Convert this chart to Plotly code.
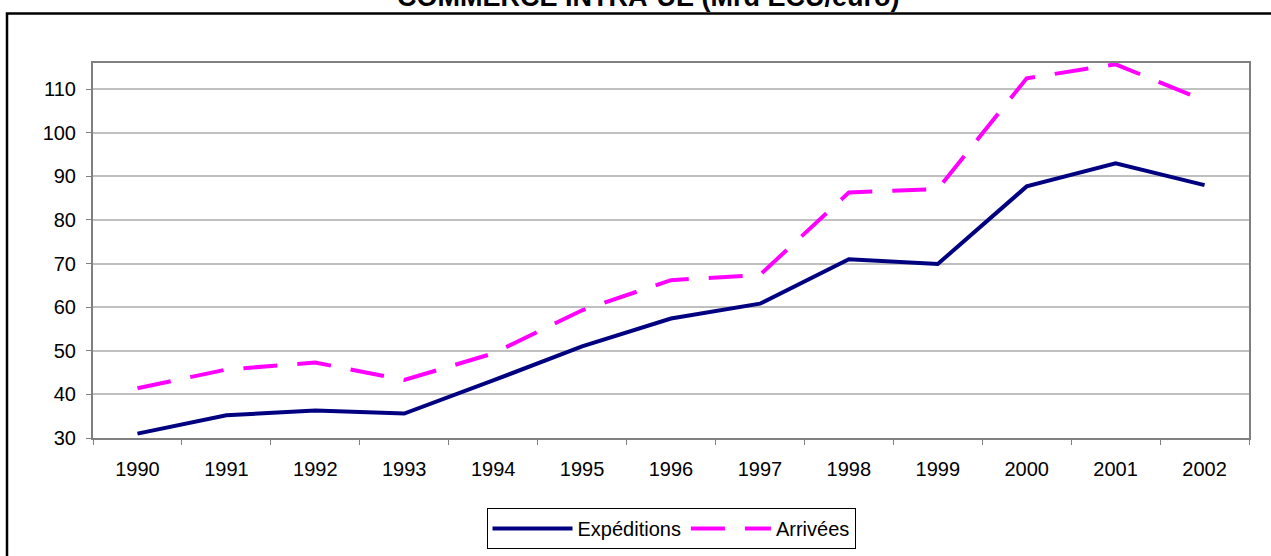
import plotly.graph_objects as go

years = ["1990", "1991", "1992", "1993", "1994", "1995", "1996", "1997", "1998", "1999", "2000", "2001", "2002"]
expeditions = [31.0, 35.2, 36.3, 35.6, 43.2, 51.0, 57.4, 60.8, 71.0, 69.9, 87.7, 93.0, 88.0]
arrivees = [41.4, 45.7, 47.3, 43.3, 49.4, 59.3, 66.2, 67.4, 86.3, 87.1, 112.5, 115.7, 107.4]
title_text = "COMMERCE INTRA-UE (Mrd ECU/euro)"

W, H = 1271, 556
L, R, T, B = 93, 1249, 63, 438

def px_x(p):
    return (p - L) / (R - L)

def px_y(p):
    return (B - p) / (B - T)

FONT = "Arial, Liberation Sans, sans-serif"
FS = 20

fig = go.Figure()
fig.add_trace(go.Scatter(x=years, y=expeditions, name="Expéditions", mode="lines",
                         line=dict(color="#000080", width=4)))
fig.add_trace(go.Scatter(x=years, y=arrivees, name="Arrivées", mode="lines",
                         line=dict(color="#FF00FF", width=4, dash="34px,20px")))

fig.update_layout(
    width=W, height=H,
    margin=dict(l=L, r=W - R, t=T, b=H - B, autoexpand=False),
    paper_bgcolor="white", plot_bgcolor="white",
    font=dict(family=FONT, size=FS, color="black"),
    showlegend=True,
    legend=dict(orientation="h", x=0.5, xanchor="center", y=px_y(508), yanchor="top",
                bordercolor="black", borderwidth=1, font=dict(size=FS, family=FONT),
                itemwidth=80, traceorder="normal", bgcolor="white"),
    xaxis=dict(type="category", showgrid=False, showline=True, linecolor="#808080", linewidth=2,
               mirror=True, ticks="outside", tickson="boundaries", ticklen=5, tickcolor="#808080",
               tickfont=dict(size=FS, family=FONT), ticklabelstandoff=12, zeroline=False,
               range=[-0.5, 12.5]),
    yaxis=dict(range=[30, 116], dtick=10, tick0=30, showgrid=True, gridcolor="#C0C0C0", gridwidth=2,
               showline=True, linecolor="#808080", linewidth=2, mirror=True,
               ticks="outside", ticklen=5, tickcolor="#808080",
               tickfont=dict(size=FS, family=FONT), ticklabelstandoff=6, zeroline=False),
    shapes=[dict(type="rect", xref="paper", yref="paper",
                 x0=px_x(7), x1=px_x(1280), y0=px_y(13.5), y1=px_y(565),
                 line=dict(color="black", width=2.5), layer="below")],
    annotations=[dict(text="<b>" + title_text + "</b>", xref="paper", yref="paper",
                      x=px_x(648), y=px_y(-3.5), xanchor="center", yanchor="middle",
                      showarrow=False, font=dict(size=27, family=FONT, color="black"))],
)

fig.write_html("out.html", config={"displayModeBar": False},
               post_script="document.body.style.margin='0';")
